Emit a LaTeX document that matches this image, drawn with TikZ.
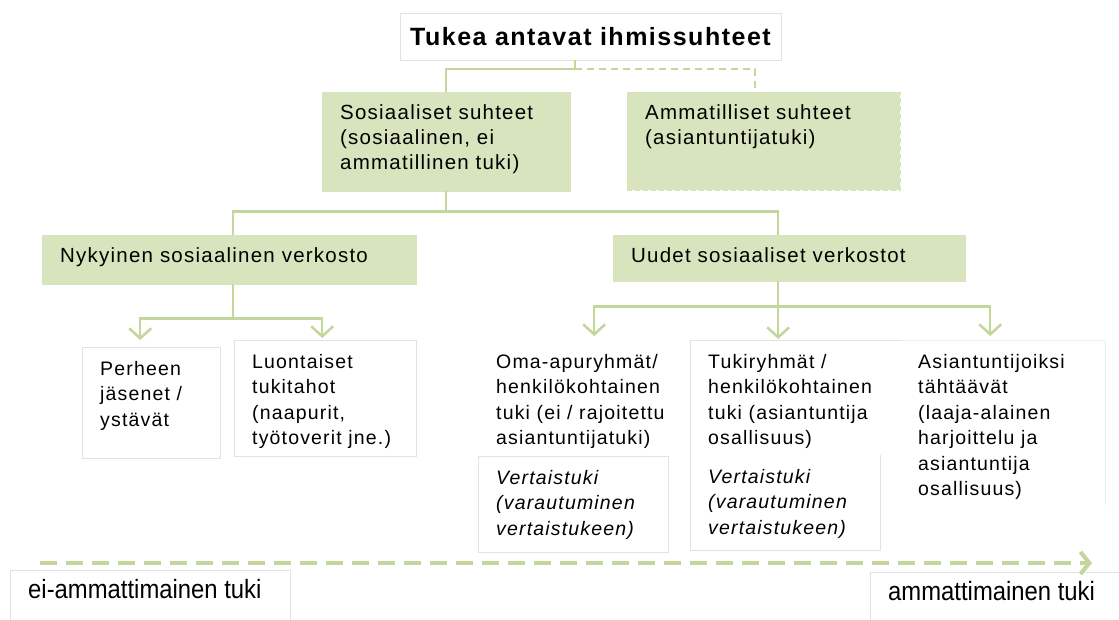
\documentclass[tikz,border=0pt]{standalone}
\usepackage{fontspec}
\setmainfont{Liberation Sans}
\newfontfamily\boxfont[LetterSpace=6]{Liberation Sans}
\newfontfamily\narrowfont[FakeStretch=0.9]{Liberation Sans}
\usetikzlibrary{arrows.meta}
\definecolor{boxgreen}{HTML}{D7E4BD}
\definecolor{linegreen}{HTML}{C3D69B}
\definecolor{cellgray}{HTML}{E2E2E2}
\newcommand\celltext[3]{\parbox[t][\dimexpr#2pt-20pt\relax][t]{\dimexpr#1pt-36pt\relax}{\raggedright\strut#3}}

\begin{document}
\begin{tikzpicture}[x=1pt,y=-1pt,
  link/.style={draw=linegreen,line width=2.5pt},
  tip/.style={link,-{Straight Barb[length=10pt,width=22pt]}},
  trend/.style={draw=linegreen,line width=4pt,dash pattern=on 17pt off 9pt,-{Straight Barb[length=9pt,width=22pt]}},
  green/.style={anchor=north west,inner xsep=18pt,inner ysep=10pt,fill=boxgreen,draw=boxgreen,font=\boxfont\fontsize{20.5}{25}\selectfont},
  cell/.style={anchor=north west,inner xsep=18pt,inner ysep=10pt,fill=white,draw=cellgray,font=\boxfont\fontsize{19.5}{25.5}\selectfont}]
  \path[use as bounding box,fill=white] (0,0) rectangle (1119,619);

  \node[draw=cellgray,fill=white,minimum width=381pt,minimum height=47pt,font=\boxfont\bfseries\fontsize{25}{30}\selectfont] (top) at (590.5,36.5) {Tukea antavat ihmissuhteet};
  \node[green] (soc) at (322,92) {\celltext{248}{99}{Sosiaaliset suhteet\\(sosiaalinen, ei\\ammatillinen tuki)}};
  \node[green,dash pattern=on 5pt off 3pt,draw=linegreen!70] (amm) at (627,92) {\celltext{273}{98}{Ammatilliset suhteet\\(asiantuntijatuki)}};
  \node[green] (nyk) at (42,235) {\celltext{374}{49}{Nykyinen sosiaalinen verkosto}};
  \node[green] (uud) at (613,235) {\celltext{352}{46}{Uudet sosiaaliset verkostot}};

  \node[cell] (per) at (82,347) {\celltext{138}{111}{Perheen\\jäsenet /\\ystävät}};
  \node[cell] (luo) at (234,340) {\celltext{182}{116}{Luontaiset\\tukitahot\\(naapurit,\\työtoverit jne.)}};
  \node[cell,draw=none] (oma) at (478,340) {\celltext{212}{116}{Oma-apuryhmät/\\henkilökohtainen\\tuki (ei / rajoitettu\\asiantuntijatuki)}};
  \node[cell] (vert1) at (478,456) {\celltext{190}{96}{\itshape Vertaistuki\\(varautuminen\\vertaistukeen)}};
  \node[cell,draw=none] (tuk) at (690,340) {\celltext{210}{165}{Tukiryhmät /\\henkilökohtainen\\tuki (asiantuntija\\osallisuus)}};
  \draw[cellgray] (tuk.south east) -- (tuk.north east) -- (tuk.north west);
  \node[cell,draw=none] (vert2) at (690,455) {\celltext{190}{95}{\itshape Vertaistuki\\(varautuminen\\vertaistukeen)}};
  \draw[cellgray] (vert2.north east) -- (vert2.south east) -- (vert2.south west) -- (tuk.north west);
  \node[cell,draw=none] (asi) at (900,340) {\celltext{205}{165}{Asiantuntijoiksi\\tähtäävät\\(laaja-alainen\\harjoittelu ja\\asiantuntija\\osallisuus)}};
  \draw[cellgray!60] (asi.north west) -- (asi.north east) -- (asi.south east);

  \node[cell,font=\narrowfont\fontsize{26.5}{30}\selectfont,inner ysep=7pt] (lo) at (10,570) {\celltext{280}{60}{ei-ammattimainen tuki}};
  \node[cell,font=\narrowfont\fontsize{26.5}{30}\selectfont,inner ysep=7pt] (hi) at (870,572) {\celltext{260}{60}{ammattimainen tuki}};

  \draw[link] ([xshift=-15.5pt]top.south) -- ++(0,9) -| (soc.north);
  \draw[link,dash pattern=on 7pt off 5pt] ([xshift=-15.5pt]top.south) ++(0,9) -| ([xshift=-8.5pt]amm.north);
  \draw[link] (soc.south) -- ++(0,20) coordinate (split);
  \draw[link] ([xshift=4pt]nyk.north) |- (split) -| ([xshift=-11pt]uud.north);

  \draw[link] ([xshift=4pt]nyk.south) -- ++(0,34) coordinate (fork1);
  \foreach \t/\s/\h in {per/-11pt/7pt, luo/-3pt/2pt}
    \draw[tip] (fork1) -| ([xshift=\s,yshift=\h]\t.north);
  \draw[link] ([xshift=-11pt]uud.south) -- ++(0,25) coordinate (fork2);
  \foreach \t/\s/\h in {oma/10pt/4pt, tuk/-17pt/1pt, asi/-12.5pt/4pt}
    \draw[tip] (fork2) -| ([xshift=\s,yshift=\h]\t.north);

  \coordinate (from) at (40,563);
  \coordinate (to) at (1092,563);
  \draw[trend] (from) -- (to);
\end{tikzpicture}
\end{document}
